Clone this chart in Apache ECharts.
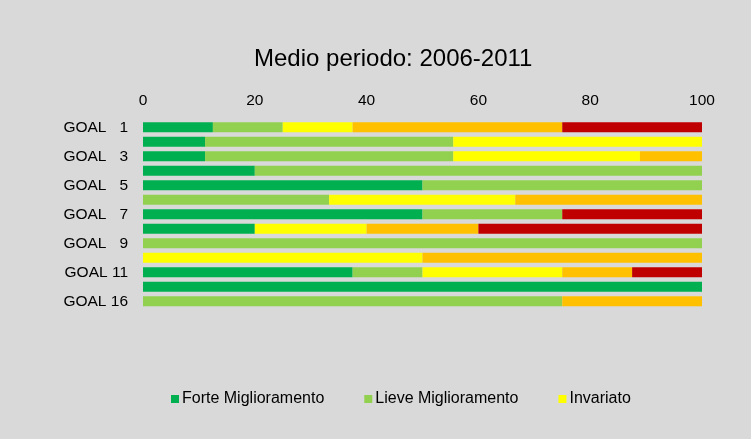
<!DOCTYPE html>
<html>
<head>
<meta charset="utf-8">
<script src="https://cdn.jsdelivr.net/npm/echarts@6/dist/echarts.min.js"></script>
<style>
  html, body { margin: 0; padding: 0; background: #d9d9d9; }
  #chart { width: 751px; height: 439px; }
</style>
</head>
<body>
<div id="chart"></div>
<script>
var categories = ['GOAL   1', 'GOAL   2', 'GOAL   3', 'GOAL   4', 'GOAL   5', 'GOAL   6', 'GOAL   7',
                  'GOAL   8', 'GOAL   9', 'GOAL 10', 'GOAL 11', 'GOAL 12', 'GOAL 16'];
var seriesNames = ['Forte Miglioramento', 'Lieve Miglioramento', 'Invariato', 'Lieve Peggioramento', 'Forte Peggioramento'];
var forteMigl  = [12.5, 11.1, 11.1, 20, 50, 0,    50, 20, 0,   0,  37.5, 100, 0];
var lieveMigl  = [12.5, 44.4, 44.4, 80, 50, 33.3, 25, 0,  100, 0,  12.5, 0,   75];
var invariato  = [12.5, 44.5, 33.4, 0,  0,  33.3, 0,  20, 0,   50, 25,   0,   0];
var lievePegg  = [37.5, 0,    11.1, 0,  0,  33.4, 0,  20, 0,   50, 12.5, 0,   25];
var fortePegg  = [25,   0,    0,    0,  0,  0,    25, 40, 0,   0,  12.5, 0,   0];
var xTicks = [0, 20, 40, 60, 80, 100];
var colors = ['#00b050', '#92d050', '#ffff00', '#ffc000', '#c00000'];

var chart = echarts.init(document.getElementById('chart'));
var values = [forteMigl, lieveMigl, invariato, lievePegg, fortePegg];

var option = {
  backgroundColor: '#d9d9d9',
  animation: false,
  textStyle: { fontFamily: 'Liberation Sans' },
  title: {
    text: 'Medio periodo: 2006-2011',
    left: 249,
    top: 42,
    textStyle: { fontFamily: 'Liberation Sans', fontSize: 24, fontWeight: 'normal', color: '#000' }
  },
  legend: {
    data: seriesNames.slice(0, 3),
    left: 166,
    top: 386,
    itemWidth: 8,
    itemHeight: 8,
    itemGap: 40,
    icon: 'rect',
    textStyle: { fontFamily: 'Liberation Sans', fontSize: 16, color: '#000', padding: [0, 0, 0, -2] }
  },
  grid: { left: 143, right: 49, top: 120, height: 188.5 },
  xAxis: {
    type: 'value',
    position: 'top',
    min: xTicks[0],
    max: xTicks[xTicks.length - 1],
    interval: 20,
    axisLine: { show: false },
    axisTick: { show: false },
    splitLine: { show: false },
    axisLabel: { fontSize: 15.5, color: '#000', margin: 11 }
  },
  yAxis: {
    type: 'category',
    inverse: true,
    data: categories,
    axisLine: { show: false },
    axisTick: { show: false },
    axisLabel: { interval: 1, fontSize: 15.5, color: '#000', margin: 15 }
  },
  series: seriesNames.map(function (name, i) {
    return {
      name: name,
      type: 'bar',
      stack: 'total',
      barWidth: 10,
      itemStyle: { color: colors[i] },
      data: values[i]
    };
  })
};

chart.setOption(option);
</script>
</body>
</html>
